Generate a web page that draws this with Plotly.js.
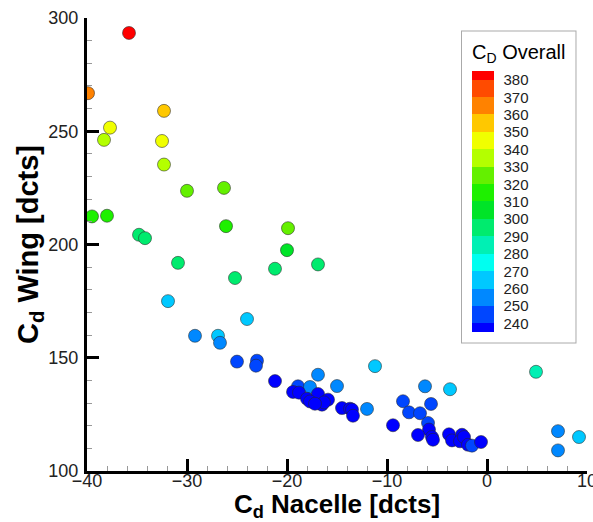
<!DOCTYPE html>
<html>
<head>
<meta charset="utf-8">
<script src="https://cdn.plot.ly/plotly-3.0.1.min.js"></script>
<style>html,body{margin:0;padding:0;background:#fff;}#chart{width:593px;height:522px;}</style>
</head>
<body>
<div id="chart"></div>
<script>
// Cd Nacelle [dcts]
const nacelle = [-35.8,-39.9,-37.7,-38.3,-32.3,-32.5,-32.3,-30.0,-26.3,-39.5,-38.0,-26.1,-19.9,-34.8,-34.2,-20.0,-30.9,-21.2,-16.9,-25.2,
  -31.9,-24.0,-29.2,-26.9,-26.7,-25.0,-23.0,-23.1,-21.2,-16.9,-18.9,-17.7,-15.0,-11.2,-19.4,-18.8,-18.0,-16.9,-17.7,-16.5,
  -15.9,-16.3,-17.2,-14.5,-13.7,-13.5,-13.4,-12.0,-6.2,-3.7,-8.4,-5.6,-7.8,-6.7,-9.4,-5.9,-5.8,-6.9,-5.5,-5.4,
  -3.8,-3.5,-2.5,-2.7,-2.3,-1.9,-1.5,-0.6,4.9,7.1,9.2,7.1];
// Cd Wing [dcts]
const wing = [293.4,266.8,251.6,246.2,259.0,245.7,235.3,223.7,225.0,212.4,212.7,208.1,207.2,204.3,202.8,197.5,191.9,189.3,191.2,185.2,
  175.0,167.1,159.7,159.7,156.6,148.3,148.7,146.5,139.7,142.5,137.4,137.1,137.5,146.3,134.9,134.6,131.9,134.0,130.7,129.3,
  131.5,130.3,129.7,127.8,127.5,127.1,124.4,127.4,137.4,136.1,130.8,129.6,125.9,125.5,120.2,121.2,118.3,115.9,115.0,113.8,
  116.2,113.5,116.0,113.1,115.0,111.6,111.2,112.8,143.8,117.6,115.0,109.1];
// CD Overall
const overall = [385,365,345,335,355,345,335,325,325,315,315,315,325,295,295,305,295,295,295,295,
  265,265,255,265,255,245,245,245,237,252,247,251,256,265,237,237,237,238,237,237,
  237,237,237,237,237,237,237,250,258,265,245,245,247,247,237,243,239,237,237,237,
  237,237,237,237,237,237,242,237,285,255,265,255];

// legend levels and band colours (Tecplot-like rainbow)
const levels = [240,250,260,270,280,290,300,310,320,330,340,350,360,370,380];
const bandColors = ['#0000ff','#0046ff','#0088ff','#00c8ff','#00fff0','#00f0b4','#00eb6e','#00e428','#1ef000','#64f000','#b4ff00','#f0ff00','#ffc800','#ff8200','#ff4b00','#ff0000'];
const cmin = 235, cmax = 385;

const edges = [cmin].concat(levels, [cmax]);
const colorscale = [];
for (let i = 0; i < bandColors.length; i++) {
  const a = (edges[i] - cmin) / (cmax - cmin);
  const b = (edges[i + 1] - cmin) / (cmax - cmin);
  colorscale.push([a, bandColors[i]]);
  colorscale.push([b, bandColors[i]]);
}

const FONT = 'Liberation Sans, Arial, Helvetica, sans-serif';

const trace = {
  type: 'scatter',
  mode: 'markers',
  x: nacelle,
  y: wing,
  marker: {
    size: 13,
    color: overall,
    cmin: cmin,
    cmax: cmax,
    colorscale: colorscale,
    line: {color: 'rgba(40,40,40,0.55)', width: 1},
    colorbar: {
      title: {text: 'C<sub>D</sub> Overall', side: 'top', font: {family: FONT, size: 20, color: '#000'}},
      tickvals: levels,
      ticktext: levels.map(String),
      ticks: 'outside',
      ticklen: 7,
      tickcolor: 'rgba(0,0,0,0)',
      tickfont: {family: FONT, size: 15, color: '#222'},
      thickness: 22,
      thicknessmode: 'pixels',
      len: 311,
      lenmode: 'pixels',
      x: 0.75,
      xanchor: 'left',
      y: 0.971,
      yanchor: 'top',
      xpad: 10,
      ypad: 10,
      bgcolor: '#fff',
      bordercolor: '#aaa',
      borderwidth: 1,
      outlinewidth: 0
    }
  },
  showlegend: false,
  hoverinfo: 'x+y'
};

const layout = {
  width: 593,
  height: 522,
  margin: {l: 87, r: 6, t: 18, b: 51},
  paper_bgcolor: '#fff',
  plot_bgcolor: '#fff',
  font: {family: FONT, color: '#222'},
  xaxis: {
    range: [-40, 10.0001],
    tick0: 0, dtick: 10,
    ticks: 'inside', ticklen: 12, tickwidth: 3, tickcolor: '#000',
    showline: true, linewidth: 3, linecolor: '#000',
    showgrid: false, zeroline: false, automargin: false,
    tickfont: {family: FONT, size: 18, color: '#222'},
    ticklabelstandoff: -9,
    ticklabeloverflow: 'allow',
    minor: {dtick: 2, ticks: 'inside', ticklen: 5, tickwidth: 1, tickcolor: '#999', showgrid: false},
    title: {text: '<b>C<sub>d</sub> Nacelle [dcts]</b>', font: {family: FONT, size: 26, color: '#000'}, standoff: 4}
  },
  yaxis: {
    range: [100, 300],
    tick0: 0, dtick: 50,
    ticks: 'inside', ticklen: 12, tickwidth: 3, tickcolor: '#000',
    showline: true, linewidth: 3, linecolor: '#000',
    showgrid: false, zeroline: false, automargin: false,
    tickfont: {family: FONT, size: 18, color: '#222'},
    ticklabelstandoff: 2,
    minor: {dtick: 10, ticks: 'inside', ticklen: 5, tickwidth: 1, tickcolor: '#999', showgrid: false},
    title: {text: '<b>C<sub>d</sub> Wing [dcts]</b>', font: {family: FONT, size: 29, color: '#000'}, standoff: 1}
  }
};

Plotly.newPlot('chart', [trace], layout, {displayModeBar: false, staticPlot: true});
</script>
</body>
</html>
